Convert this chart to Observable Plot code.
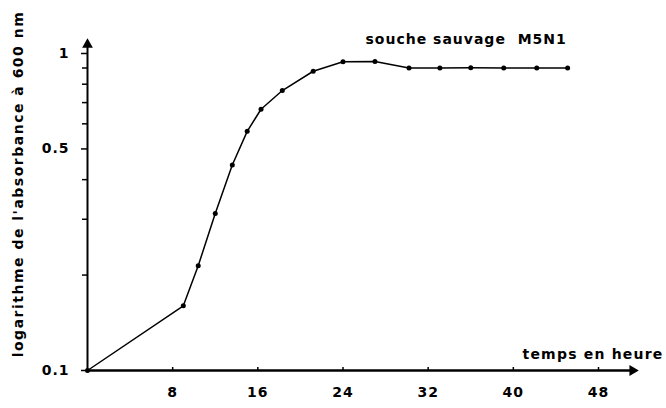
<!DOCTYPE html>
<html>
<head>
<meta charset="utf-8">
<script src="https://cdn.jsdelivr.net/npm/d3@7"></script>
<script src="https://cdn.jsdelivr.net/npm/@observablehq/plot@0.6"></script>
<style>
  html, body { margin: 0; padding: 0; background: #fff; }
  svg { display: block; }
</style>
</head>
<body>
<div id="chart"></div>
<script>
// Data
const hours = [0, 9, 10.4, 12, 13.6, 15, 16.3, 18.3, 21.2, 24, 27, 30.2, 33.1, 36, 39.1, 42.2, 45.1];
const absorbance = [0.1, 0.16, 0.214, 0.313, 0.445, 0.568, 0.667, 0.764, 0.879, 0.942, 0.944, 0.9, 0.9, 0.902, 0.9, 0.9, 0.9];
const xTicks = [8, 16, 24, 32, 40, 48];
const yMajorTicks = [0.1, 0.5, 1];
const yMinorTicks = [0.2, 0.3, 0.4, 0.6, 0.7, 0.8, 0.9];
const xAxisEnd = 51.2;   // hours where the x axis arrow ends
const yAxisEnd = 1.067;  // absorbance where the y axis arrow ends
const title = "souche sauvage  M5N1";
const xLabel = "temps en heure";
const yLabel = "logarithme de l'absorbance à 600 nm";

const data = hours.map((h, i) => ({h, a: absorbance[i]}));
const font = "DejaVu Sans";

const chart = Plot.plot({
  width: 666,
  height: 408,
  marginLeft: 87,
  marginRight: 3,
  marginTop: 53,
  marginBottom: 38,
  style: {fontFamily: font, fontWeight: "bold", background: "#fff", color: "#000"},
  x: {domain: [0, 48], range: [87, 598]},
  y: {type: "log", domain: [0.1, 1], range: [370, 53]},
  marks: [
    // axes lines
    Plot.ruleY([0.1], {x1: 0, x2: xAxisEnd, stroke: "#000", strokeWidth: 2.5}),
    Plot.ruleX([0], {y1: 0.1, y2: yAxisEnd, stroke: "#000", strokeWidth: 2}),
    Plot.dot([{x: xAxisEnd, y: 0.1}], {x: "x", y: "y", symbol: "triangle", rotate: 90, r: 4, fill: "#000", stroke: null}),
    Plot.dot([{x: 0, y: yAxisEnd}], {x: "x", y: "y", symbol: "triangle", r: 4, fill: "#000", stroke: null}),
    // x axis: small upward ticks and labels
    Plot.axisX({ticks: xTicks, tickSize: -3, tickFormat: () => "", strokeWidth: 1.5, label: null}),
    Plot.axisX({ticks: xTicks, tickSize: 0, tickPadding: 17, label: null,
      fontSize: 14, fontWeight: "bold"}),
    // y axis ticks and labels
    Plot.axisY({ticks: yMinorTicks, tickSize: 5, tickFormat: () => "", strokeWidth: 1.5, label: null}),
    Plot.axisY({ticks: yMajorTicks, tickSize: 6, tickPadding: 12, tickFormat: d => String(d),
      strokeWidth: 1.5, label: null, fontSize: 14, fontWeight: "bold"}),
    // data
    Plot.line(data, {x: "h", y: "a", stroke: "#000", strokeWidth: 1.5}),
    Plot.dot(data, {x: "h", y: "a", r: 2.5, fill: "#000", stroke: null}),
    // texts
    Plot.text([title], {frameAnchor: "top-left", dx: 278, dy: -14, textAnchor: "start", lineAnchor: "middle",
      fontSize: 14, fontWeight: "bold", fill: "#000"}),
    Plot.text([xLabel], {frameAnchor: "bottom-right", dx: 0, dy: -16, textAnchor: "end", lineAnchor: "middle",
      fontSize: 14, fontWeight: "bold", fill: "#000"}),
    Plot.text([yLabel], {frameAnchor: "left", rotate: -90, dx: -69, dy: -28, textAnchor: "middle", lineAnchor: "middle",
      fontSize: 14, fontWeight: "bold", fill: "#000"})
  ]
});
document.getElementById("chart").appendChild(chart);
// wide letter spacing like the original bitmap font
d3.select(chart).selectAll("text").style("letter-spacing", function() {
  const t = this.textContent;
  if (t === yLabel) return "1.5px";
  if (t === xLabel) return "1.2px";
  return "1px";
});
</script>
</body>
</html>
